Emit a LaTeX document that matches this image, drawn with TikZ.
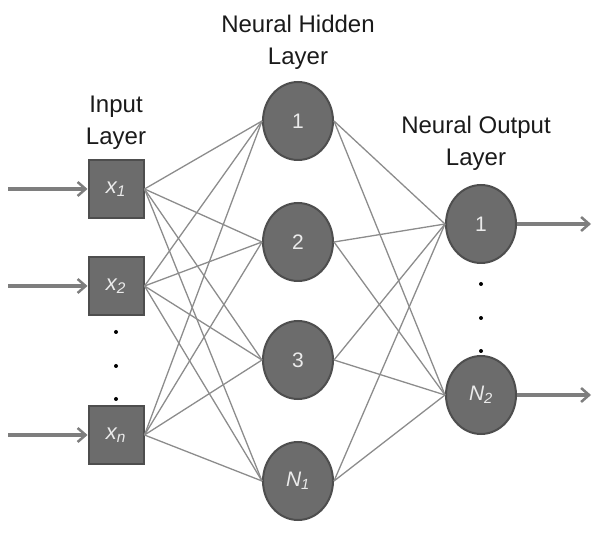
\documentclass[tikz,border=0pt]{standalone}
\usepackage{fontspec}
\setmainfont{Liberation Sans}
\usetikzlibrary{arrows.meta,shapes.geometric}
\definecolor{nodefill}{HTML}{6C6C6C}
\definecolor{nodeedge}{HTML}{4E4E4E}
\definecolor{linkgray}{HTML}{8C8C8C}
\definecolor{arrowgray}{HTML}{7E7E7E}
\definecolor{labeltxt}{HTML}{1A1A1A}
\begin{document}
\begin{tikzpicture}[x=1pt,y=-1pt,
  inbox/.style={draw=nodeedge,line width=2pt,fill=nodefill,minimum width=55pt,minimum height=58pt,inner sep=0pt,text=white!92!black,font=\fontsize{22}{24}\selectfont},
  neuron/.style={ellipse,draw=nodeedge,line width=2pt,fill=nodefill,minimum width=70pt,minimum height=78pt,inner sep=0pt,text=white!92!black,font=\fontsize{21}{24}\selectfont},
  link/.style={draw=linkgray,line width=1.3pt},
  ioarrow/.style={draw=arrowgray,line width=3.5pt,-{Straight Barb[length=8pt,width=14pt,line width=2.5pt]}},
  layerlabel/.style={align=center,text=labeltxt,font=\fontsize{24}{32}\selectfont,inner sep=0pt},
  dotmark/.style={circle,fill=black,inner sep=0pt,minimum size=4pt}]
\useasboundingbox (0,0) rectangle (592,534);
% labels
\node[layerlabel,anchor=base] (lh) at (298,65) {Neural Hidden\\Layer};
\node[layerlabel,anchor=base] (li) at (116,145) {Input\\Layer};
\node[layerlabel,anchor=base] (lo) at (476,166) {Neural Output\\Layer};
% input boxes
\node[inbox] (x1) at (116,189) {\itshape x\textsubscript{1}};
\node[inbox] (x2) at (116,286) {\itshape x\textsubscript{2}};
\node[inbox] (xn) at (116,435) {\itshape x\textsubscript{n}};
% hidden neurons
\node[neuron] (h1) at (298,121) {1};
\node[neuron] (h2) at (298,242) {2};
\node[neuron] (h3) at (298,360) {3};
\node[neuron] (hN) at (298,481) {\itshape N\textsubscript{1}};
% output neurons
\node[neuron] (o1) at (481,224) {1};
\node[neuron] (oN) at (481,395) {\itshape N\textsubscript{2}};
% dots
\node[dotmark] (d1) at (116,332) {};
\node[dotmark] (d2) at (116,366) {};
\node[dotmark] (d3) at (116,399) {};
\node[dotmark] (d4) at (481,284) {};
\node[dotmark] (d5) at (481,318) {};
\node[dotmark] (d6) at (481,351) {};
% links
\foreach \i in {x1,x2,xn}{
  \foreach \h in {h1,h2,h3,hN}{
    \draw[link] (\i.east) -- (\h.west);
  }
}
\foreach \h in {h1,h2,h3,hN}{
  \foreach \o in {o1,oN}{
    \draw[link] (\h.east) -- (\o.west);
  }
}
% io arrows
\coordinate (s1) at (8,189);
\coordinate (s2) at (8,286);
\coordinate (sn) at (8,435);
\coordinate (e1) at (591,224);
\coordinate (eN) at (591,395);
\draw[ioarrow] (s1) -- (x1.west);
\draw[ioarrow] (s2) -- (x2.west);
\draw[ioarrow] (sn) -- (xn.west);
\draw[ioarrow] (o1.east) -- (e1);
\draw[ioarrow] (oN.east) -- (eN);
\end{tikzpicture}
\end{document}
